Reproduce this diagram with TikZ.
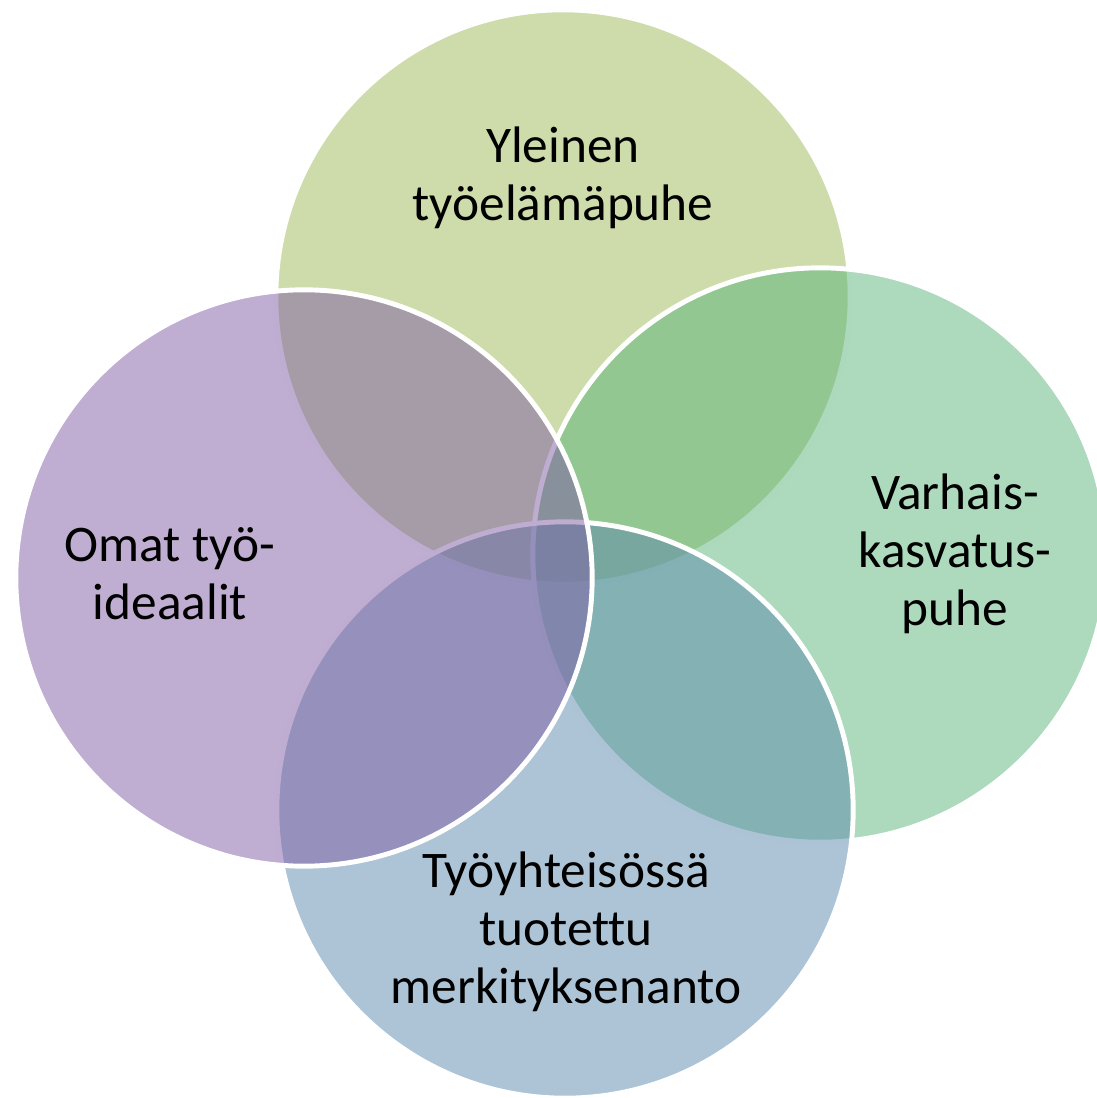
\documentclass[tikz,border=0pt]{standalone}
\usepackage{fontspec}
\setmainfont{Carlito}[Ligatures=NoCommon]
\usepackage{tikz}
\usetikzlibrary{positioning}
\definecolor{olivo}{RGB}{155,185,85}
\definecolor{verdemar}{RGB}{91,179,123}
\definecolor{azulgris}{RGB}{91,137,173}
\definecolor{lila}{RGB}{127,93,165}
\tikzset{
  circulo/.style={draw=white,line width=1.4pt,fill opacity=0.5},
  texto/.style={align=center,inner sep=0pt,text=black,font=\fontsize{14.6pt}{16.5pt}\selectfont},
}

\begin{document}
\begin{tikzpicture}[x=0.01cm,y=-0.01cm]
\useasboundingbox (0,0) rectangle (1096,1098);
\coordinate (c1) at (563,297);
\coordinate (c2) at (820,555);
\coordinate (c3) at (565,810);
\coordinate (c4) at (304,578);
\draw[circulo,fill=olivo] (c1) circle[radius=2.87cm];
\draw[circulo,fill=verdemar] (c2) circle[radius=2.87cm];
\draw[circulo,fill=azulgris] (c3) circle[radius=2.88cm];
\draw[circulo,fill=lila] (c4) circle[radius=2.88cm];
\node[texto] (t1) at (563,178) {Yleinen\\työelämäpuhe};
\node[texto] (t2) at (955,554) {Varhais-\\kasvatus-\\puhe};
\node[texto] (t3) at (170,574) {Omat työ-\\ideaalit};
\node[texto] (t4) at (566,932) {Työyhteisössä\\tuotettu\\merkityksenanto};
\end{tikzpicture}
\end{document}
